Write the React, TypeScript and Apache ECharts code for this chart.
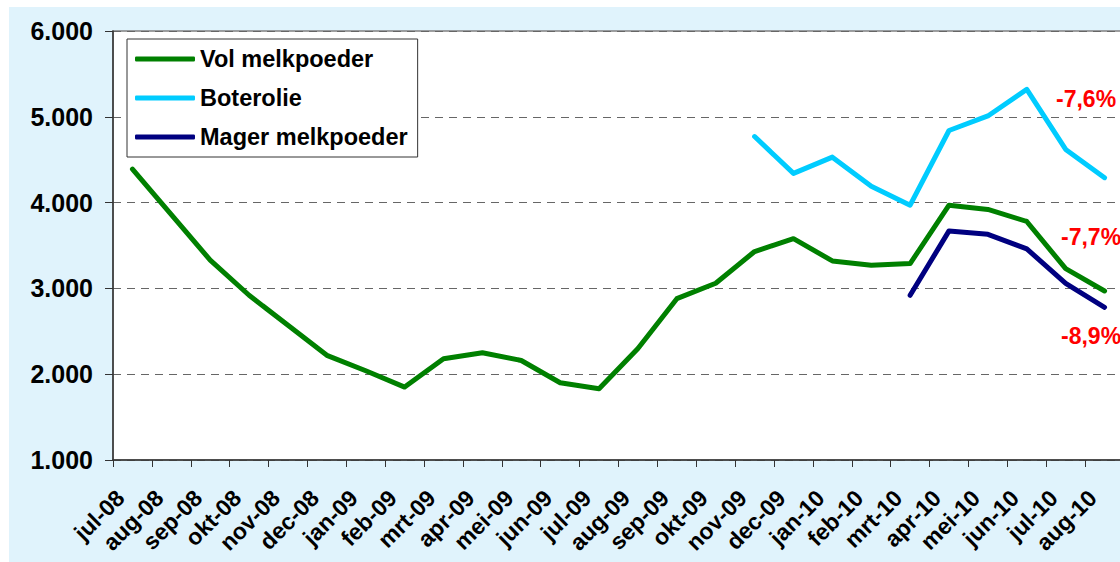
import React, { useEffect, useRef } from "react";
import * as echarts from "echarts";

const categories = [
  "jul-08", "aug-08", "sep-08", "okt-08", "nov-08", "dec-08",
  "jan-09", "feb-09", "mrt-09", "apr-09", "mei-09", "jun-09",
  "jul-09", "aug-09", "sep-09", "okt-09", "nov-09", "dec-09",
  "jan-10", "feb-10", "mrt-10", "apr-10", "mei-10", "jun-10",
  "jul-10", "aug-10",
];

const volMelkpoeder = [
  4390, 3860, 3330, 2920, 2570, 2220, 2040, 1850, 2180, 2250, 2160, 1900,
  1830, 2300, 2880, 3060, 3430, 3580, 3320, 3270, 3290, 3970, 3920, 3780,
  3230, 2970,
];

const boterolie = [
  null, null, null, null, null, null, null, null, null, null, null, null,
  null, null, null, null, 4770, 4340, 4530, 4190, 3970, 4840, 5010, 5320,
  4620, 4290,
];

const magerMelkpoeder = [
  null, null, null, null, null, null, null, null, null, null, null, null,
  null, null, null, null, null, null, null, null, 2920, 3670, 3630, 3460,
  3060, 2780,
];

const seriesNames = ["Vol melkpoeder", "Boterolie", "Mager melkpoeder"];
const annotations = ["-7,6%", "-7,7%", "-8,9%"];

const FONT = "'Liberation Sans', Arial, sans-serif";

export default function App() {
  const ref = useRef<HTMLDivElement>(null);

  useEffect(() => {
    if (!ref.current) return;
    const chart = echarts.init(ref.current, null, { renderer: "svg" });
    const colors = ["#008000", "#00CCFF", "#000080"];
    const data = [volMelkpoeder, boterolie, magerMelkpoeder];
    // page-pixel positions of the annotation texts (top-left)
    const annPos = [
      { x: 1056, y: 87 },
      { x: 1061, y: 225 },
      { x: 1061, y: 324 },
    ];
    chart.setOption({
      animation: false,
      backgroundColor: "#E0F3FC",
      textStyle: { fontFamily: FONT },
      grid: {
        left: 104,
        top: 24,
        right: -4,
        bottom: 102,
        containLabel: false,
        outerBoundsMode: "none",
        show: true,
        backgroundColor: "#FFFFFF",
        borderColor: "#808080",
        borderWidth: 1.5,
      },
      legend: {
        left: 118,
        top: 32,
        orient: "vertical",
        backgroundColor: "#FFFFFF",
        borderColor: "#333333",
        borderWidth: 1,
        borderRadius: 0,
        padding: [7, 10, 7, 8],
        itemWidth: 60,
        itemHeight: 5,
        itemGap: 13,
        icon: "roundRect",
        textStyle: {
          fontFamily: FONT,
          fontWeight: "bold",
          fontSize: 23.5,
          color: "#000000",
          lineHeight: 26,
        },
        data: seriesNames,
      },
      xAxis: {
        type: "category",
        data: categories,
        boundaryGap: true,
        axisLine: { lineStyle: { color: "#333333", width: 1.5 } },
        axisTick: { show: true, length: 7, inside: false, lineStyle: { color: "#333333" } },
        axisLabel: {
          interval: 0,
          rotate: 45,
          margin: 22,
          padding: [0, 17, 0, 0],
          fontFamily: FONT,
          fontWeight: "bold",
          fontSize: 23,
          color: "#000000",
        },
        splitLine: { show: false },
      },
      yAxis: {
        type: "value",
        min: 1000,
        max: 6000,
        interval: 1000,
        axisLine: { show: true, lineStyle: { color: "#333333", width: 1.5 } },
        axisTick: { show: true, length: 8, lineStyle: { color: "#333333" } },
        axisLabel: {
          margin: 20,
          fontFamily: FONT,
          fontWeight: "bold",
          fontSize: 25,
          color: "#000000",
          formatter: (v: number) => {
            const s = String(Math.round(v));
            return s.length > 3 ? s.slice(0, s.length - 3) + "." + s.slice(-3) : s;
          },
        },
        splitLine: {
          show: true,
          lineStyle: { color: "#666666", type: [8, 6], width: 1 },
        },
      },
      series: seriesNames.map((name, i) => ({
        name,
        type: "line",
        data: data[i],
        symbol: "none",
        connectNulls: false,
        lineStyle: { color: colors[i], width: 5, cap: "round", join: "round" },
        itemStyle: { color: colors[i] },
      })),
      graphic: annotations.map((t, i) => ({
        type: "text",
        x: annPos[i].x - 9,
        y: annPos[i].y - 7,
        z: 10,
        style: {
          text: t,
          fill: "#FF0000",
          fontFamily: FONT,
          fontWeight: "bold",
          fontSize: 23,
        },
      })),
    });
    return () => chart.dispose();
  }, []);

  return (
    <div
      ref={ref}
      style={{ position: "fixed", left: 9, top: 7, width: 1111, height: 555 }}
    />
  );
}
